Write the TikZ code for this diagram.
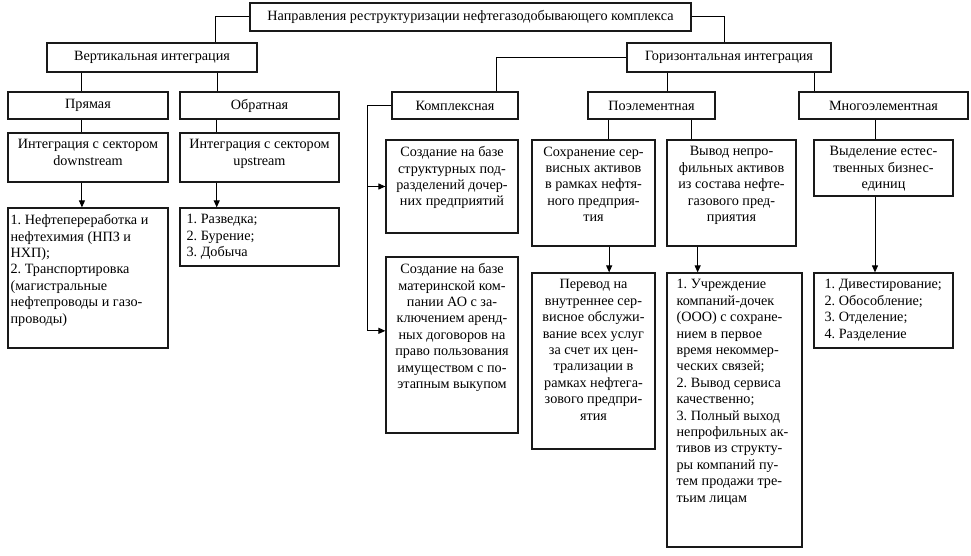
\documentclass[tikz,border=0pt]{standalone}
\usepackage{fontspec}
\setmainfont{Liberation Serif}
\usetikzlibrary{fit,calc,arrows.meta}
\frenchspacing
\begin{document}
\begin{tikzpicture}[x=1pt,y=-1pt,
 box/.style={draw=black!90, line width=1.2pt, inner sep=0pt},
 txt/.style={font=\fontsize{14.2}{16.4}\selectfont, inner sep=0pt, align=center},
 ctxt/.style={txt, anchor=north, yshift=-7pt},
 ltxt/.style={txt, align=left, anchor=north west, yshift=-7pt},
 con/.style={line width=1pt, draw=black},
 arr/.style={con, -{Triangle[length=7pt,width=6pt]}}]
\useasboundingbox (0,0) rectangle (971,556);
% boxes
\node[box, fit={(250,3) (691,31)}] (top) {};
\node[box, fit={(47,43) (257,72)}] (vert) {};
\node[box, fit={(627,43) (831,72)}] (hor) {};
\node[box, fit={(8,92) (168,119)}] (pryam) {};
\node[box, fit={(180,92) (339,119)}] (obr) {};
\node[box, fit={(392,92) (518,119)}] (kompl) {};
\node[box, fit={(588,92) (715,119)}] (poel) {};
\node[box, fit={(799,92) (968,119)}] (mnogo) {};
\node[box, fit={(8,133) (168,182)}] (down) {};
\node[box, fit={(180,133) (339,182)}] (up) {};
\node[box, fit={(8,208) (168,348)}] (list1) {};
\node[box, fit={(180,208) (339,266)}] (list2) {};
\node[box, fit={(386,140) (518,233)}] (sozd1) {};
\node[box, fit={(386,257) (518,433)}] (sozd2) {};
\node[box, fit={(532,140) (655,246)}] (sohr) {};
\node[box, fit={(532,273) (655,449)}] (perevod) {};
\node[box, fit={(667,140) (796,246)}] (vyvod) {};
\node[box, fit={(667,273) (802,547)}] (list3) {};
\node[box, fit={(814,140) (953,196)}] (vydel) {};
\node[box, fit={(814,273) (953,348)}] (list4) {};
% texts
\node[txt] (ttop) at (top.center) {Направления реструктуризации нефтегазодобывающего комплекса};
\node[txt] (tvert) at (vert.center) {Вертикальная интеграция};
\node[txt] (thor) at (hor.center) {Горизонтальная интеграция};
\node[txt] (tpryam) at (pryam.center) {Прямая};
\node[txt] (tobr) at (obr.center) {Обратная};
\node[txt] (tkompl) at (kompl.center) {Комплексная};
\node[txt] (tpoel) at (poel.center) {Поэлементная};
\node[txt] (tmnogo) at (mnogo.center) {Многоэлементная};
\node[ctxt] (tdown) at (down.north) {Интеграция с сектором\\downstream};
\node[ctxt] (tup) at (up.north) {Интеграция с сектором\\upstream};
\node[ltxt, xshift=3pt] (tlist1) at (list1.north west) {1. Нефтепереработка и\\нефтехимия (НПЗ и\\НХП);\\2. Транспортировка\\(магистральные\\нефтепроводы и газо-\\проводы)};
\node[ltxt, xshift=7pt] (tlist2) at (list2.north west) {1. Разведка;\\2. Бурение;\\3. Добыча};
\node[ctxt] (tsozd1) at (sozd1.north) {Создание на базе\\структурных под-\\разделений дочер-\\них предприятий};
\node[ctxt] (tsozd2) at (sozd2.north) {Создание на базе\\материнской ком-\\пании АО с за-\\ключением аренд-\\ных договоров на\\право пользования\\имуществом с по-\\этапным выкупом};
\node[ctxt] (tsohr) at (sohr.north) {Сохранение сер-\\висных активов\\в рамках нефтя-\\ного предприя-\\тия};
\node[ctxt] (tperevod) at (perevod.north) {Перевод на\\внутреннее сер-\\висное обслужи-\\вание всех услуг\\за счет их цен-\\трализации в\\рамках нефтега-\\зового предпри-\\ятия};
\node[ctxt] (tvyvod) at (vyvod.north) {Вывод непро-\\фильных активов\\из состава нефте-\\газового пред-\\приятия};
\node[ltxt, xshift=10pt] (tlist3) at (list3.north west) {1. Учреждение\\компаний-дочек\\(ООО) с сохране-\\нием в первое\\время некоммер-\\ческих связей;\\2. Вывод сервиса\\качественно;\\3. Полный выход\\непрофильных ак-\\тивов из структу-\\ры компаний пу-\\тем продажи тре-\\тьим лицам};
\node[ctxt] (tvydel) at (vydel.north) {Выделение естес-\\твенных бизнес-\\единиц};
\node[ltxt, xshift=11pt] (tlist4) at (list4.north west) {1. Дивестирование;\\2. Обособление;\\3. Отделение;\\4. Разделение};
% connectors
\draw[con] (top.west) -| ($(vert.north west)!0.8!(vert.north east)$);
\draw[con] (top.east) -| ($(hor.north west)!0.48!(hor.north east)$);
\draw[con] ($(vert.south west)!0.167!(vert.south east)$) coordinate (c1) -- (c1 |- pryam.north);
\draw[con] ($(vert.south west)!0.81!(vert.south east)$) coordinate (c2) -- (c2 |- obr.north);
\draw[con] (hor.west) -| ($(kompl.north west)!0.825!(kompl.north east)$);
\draw[con] ($(hor.south west)!0.2!(hor.south east)$) coordinate (c3) -- (c3 |- poel.north);
\draw[con] ($(hor.south west)!0.917!(hor.south east)$) coordinate (c4) -- (c4 |- mnogo.north);
\draw[con] ($(pryam.south west)!0.4625!(pryam.south east)$) coordinate (c5) -- (c5 |- down.north);
\draw[arr] (c5 |- down.south) -- (c5 |- list1.north);
\draw[con] ($(obr.south west)!0.233!(obr.south east)$) coordinate (c6) -- (c6 |- up.north);
\draw[arr] (c6 |- up.south) -- (c6 |- list2.north);
\coordinate (k2) at ($(sozd2.north west)!0.42!(sozd2.south west)$);
\draw[con] (kompl.west) -- ++(-24,0) coordinate (k1) -- (k1 |- k2);
\draw[arr] (k1 |- sozd1.west) -- (sozd1.west);
\draw[arr] (k1 |- k2) -- (k2);
\draw[con] ($(poel.south west)!0.165!(poel.south east)$) coordinate (c7) -- (c7 |- sohr.north);
\draw[con] ($(poel.south west)!0.81!(poel.south east)$) coordinate (c8) -- (c8 |- vyvod.north);
\draw[arr] ($(sohr.south west)!0.626!(sohr.south east)$) coordinate (c9) -- (c9 |- perevod.north);
\draw[arr] ($(vyvod.south west)!0.24!(vyvod.south east)$) coordinate (c10) -- (c10 |- list3.north);
\draw[con] ($(mnogo.south west)!0.45!(mnogo.south east)$) coordinate (c11) -- (c11 |- vydel.north);
\draw[arr] (c11 |- vydel.south) -- (c11 |- list4.north);
\end{tikzpicture}
\end{document}
